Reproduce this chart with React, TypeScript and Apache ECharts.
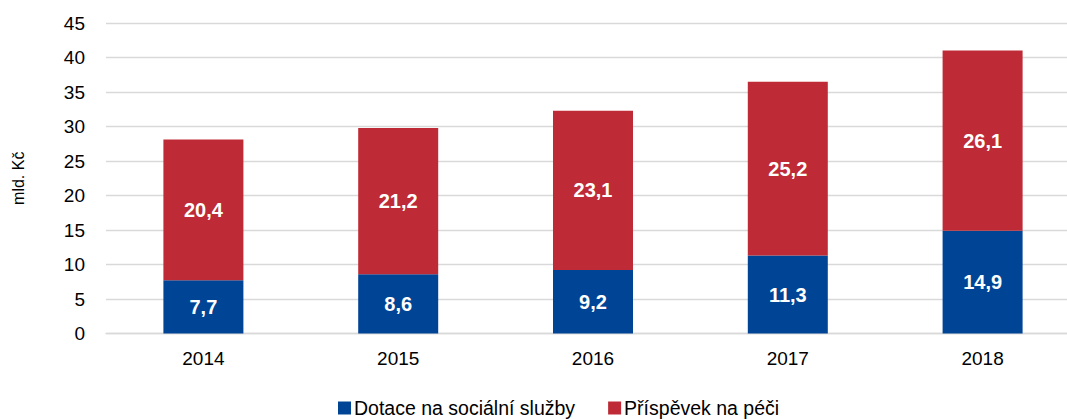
import React, { useEffect, useRef } from "react";
import * as echarts from "echarts";

const years = ["2014", "2015", "2016", "2017", "2018"];
const dotace = [7.7, 8.6, 9.2, 11.3, 14.9];
const prispevek = [20.4, 21.2, 23.1, 25.2, 26.1];
const yAxisName = "mld. Kč";
const seriesNames = ["Dotace na sociální služby", "Příspěvek na péči"];

const FONT = "'Liberation Sans', 'DejaVu Sans', sans-serif";

export default function App() {
  const ref = useRef<HTMLDivElement>(null);
  useEffect(() => {
    if (!ref.current) return;
    const chart = echarts.init(ref.current, null, { renderer: "svg" });
    const label = {
      show: true,
      position: "inside",
      color: "#ffffff",
      fontWeight: "bold",
      fontSize: 20,
      fontFamily: FONT,
      formatter: (p: any) => String(p.value).replace(".", ","),
    };
    chart.setOption({
      animation: false,
      grid: { left: 106, top: 23, right: 0, bottom: 85.5, containLabel: false },
      legend: {
        left: 333,
        top: 393,
        itemWidth: 13,
        itemHeight: 13,
        itemGap: 33,
        icon: "rect",
        textStyle: { fontSize: 19.5, color: "#000", fontFamily: FONT, padding: [0, 0, 0, -2] },
        data: seriesNames,
      },
      xAxis: {
        type: "category",
        data: years,
        axisLine: { show: true, lineStyle: { color: "#d9d9d9", width: 1.3 } },
        axisTick: { show: false },
        axisLabel: { fontSize: 19, color: "#000", fontFamily: FONT, margin: 15 },
      },
      yAxis: {
        type: "value",
        min: 0,
        max: 45,
        interval: 5,
        name: yAxisName,
        nameLocation: "middle",
        nameRotate: 90,
        nameGap: 80,
        nameTextStyle: { fontSize: 16, color: "#000", fontFamily: FONT },
        axisLine: { show: false },
        axisTick: { show: false },
        axisLabel: { fontSize: 19, color: "#000", fontFamily: FONT, margin: 21 },
        splitLine: { lineStyle: { color: "#d9d9d9", width: 1.3 } },
      },
      series: [
        {
          name: seriesNames[0],
          type: "bar",
          stack: "total",
          data: dotace,
          barWidth: 80,
          itemStyle: { color: "#004496" },
          label,
        },
        {
          name: seriesNames[1],
          type: "bar",
          stack: "total",
          data: prispevek,
          barWidth: 80,
          itemStyle: { color: "#BE2A35" },
          label,
        },
      ],
    });
    return () => chart.dispose();
  }, []);
  return (
    <div style={{ width: 1067, height: 419, position: "absolute", left: 0, top: 0, overflow: "hidden" }}>
      <div ref={ref} style={{ width: 1080, height: 419 }} />
    </div>
  );
}
